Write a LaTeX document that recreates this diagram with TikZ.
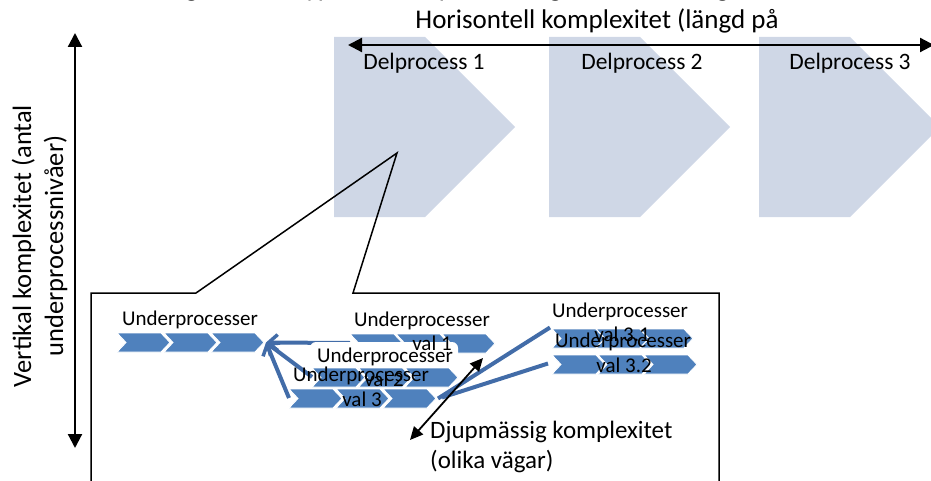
\documentclass[tikz,border=0pt]{standalone}
\usepackage{fontspec}
\setmainfont{Carlito}
\usetikzlibrary{arrows.meta,calc}

\definecolor{paleblue}{RGB}{207,215,230}
\definecolor{stepblue}{RGB}{79,129,189}
\definecolor{linkblue}{RGB}{66,108,168}

% large process phase: rectangle with a 45 degree point
\newcommand\bigchev[2]{%
  \fill[paleblue] (#2,37) -- ++(91,0) -- ++(90,90) -- ++(-90,90) -- ++(-91,0) -- cycle;
  \coordinate (#1) at (#2+91,127);}

% row of three small chevrons: name, left x, top y, pitch
\newcommand\steprow[4]{%
  \foreach \k in {0,1,2}{%
    \path[stepchev,shift={(#2+#4*\k,#3)}]
      (0,0) -- (44,0) -- (53,9.5) -- (44,19) -- (0,19) -- (9,9.5) -- cycle;}
  \coordinate (#1-in)  at (#2,#3+9.5);
  \coordinate (#1-out) at (#2+2*#4+53,#3+9.5);}

\tikzset{
  stepchev/.style={fill=stepblue,draw=white,line width=0.9pt},
  link/.style={draw=linkblue,line width=4pt},
  barbend/.style={-{Straight Barb[length=9pt,width=16pt,line width=3.5pt]}},
  axis/.style={draw=black,line width=2.2pt,
    {Triangle[length=14pt,width=14pt]}-{Triangle[length=14pt,width=14pt]}},
  deeparrow/.style={draw=black,line width=1.8pt,
    {Triangle[length=13pt,width=12pt]}-{Triangle[length=13pt,width=12pt]}},
  frame/.style={draw=black,line width=1.5pt,line join=miter},
  lbl/.style={inner sep=0pt,font=\fontsize{21}{24}\selectfont},
  phase/.style={inner sep=0pt,font=\fontsize{23.5}{26}\selectfont},
  big/.style={inner sep=0pt,font=\fontsize{25}{30}\selectfont},
  top/.style={inner sep=0pt,font=\fontsize{27}{30}\selectfont},
  side/.style={inner sep=0pt,font=\fontsize{26.5}{30}\selectfont,rotate=90,anchor=base},
}

\begin{document}
\begin{tikzpicture}[x=1pt,y=-1pt]
\useasboundingbox (0,0) rectangle (931,481);
\clip (0,0) rectangle (931,481);

% caption line above, only its descenders reach the page
\node[top,anchor=base] (caption) at (452,-3)
  {Figur 2. Tre typer av komplexitet (egen bearbetning)};

% process phases
\bigchev{ph1}{334}
\bigchev{ph2}{549}
\bigchev{ph3}{759}

\node[top] (horis) at (597,21) {Horisontell komplexitet (längd på};
\coordinate (hleft) at (348,45);
\coordinate (hright) at (934,45);
\draw[axis] (hleft) -- (hright);

\node[phase] (d1) at (424,63) {Delprocess 1};
\node[phase] (d2) at (642,63) {Delprocess 2};
\node[phase] (d3) at (850,63) {Delprocess 3};

% vertical axis
\coordinate (vtop) at (75,33);
\coordinate (vbot) at (75,448);
\draw[axis] (vbot) -- (vtop);
\node[side] (vl1) at (31,246) {Vertikal komplexitet (antal};
\node[side] (vl2) at (63,246) {underprocessnivåer)};

% zoom frame with callout
\coordinate (apex) at (397,153);
\draw[frame] (91,495) -- (91,293) -- (196,293) -- (apex) -- (353,293)
  -- (719,293) -- (719,495);

% main sub-process row
\node[lbl] (ulA) at (190,320) {Underprocesser};
\steprow{rA}{117}{333}{47}

% links back to the main row
\coordinate (v1in) at (350,343);
\coordinate (v2in) at (312,377);
\coordinate (v3in) at (289,398);
\draw[link,barbend] (v1in) -- ($(rA-out)+(2,0)$);
\draw[link,barbend] (v2in) -- ($(rA-out)+(2,0)$);
\draw[link,barbend] (v3in) -- ($(rA-out)+(2,0)$);

% alternative 1
\steprow{r1}{350}{334}{46}
\node[lbl] (u1) at (422,321) {Underprocesser};

% alternative 2
\fill[white,rounded corners=6pt] (310,342) rectangle (458,367);
\node[lbl] (v1) at (432,343) {val 1};
\node[lbl] (u2) at (385,357) {Underprocesser};
\steprow{r2}{312}{368}{46.5}
\node[lbl] (v2) at (384,379) {val 2};

% alternative 3
\steprow{r3}{289}{389}{47}
\node[lbl] (u3) at (361,376) {Underprocesser};
\node[lbl] (v3) at (362,399) {val 3};

% branches of alternative 3
\node[lbl] (u31) at (620,312) {Underprocesser};
\steprow{r31}{552}{329}{44}
\node[lbl] (v31) at (622,334) {val 3.1};
\steprow{r32}{552}{355}{46}
\node[lbl] (u32) at (623,342) {Underprocesser};
\node[lbl] (v32) at (624,365) {val 3.2};

\draw[link] ($(r3-out)+(2,0)$) -- ($(r31-in)+(-2,-11)$);
\draw[link] ($(r3-out)+(6,-1)$) -- ($(r32-in)+(-4,-1)$);

% depth axis
\coordinate (dtop) at (483,358);
\coordinate (dbot) at (410,440);
\draw[deeparrow] (dbot) -- (dtop);
\node[big,anchor=west] (dj1) at (430,432) {Djupmässig komplexitet};
\node[big,anchor=west] (dj2) at (430,462) {(olika vägar)};
\end{tikzpicture}
\end{document}
